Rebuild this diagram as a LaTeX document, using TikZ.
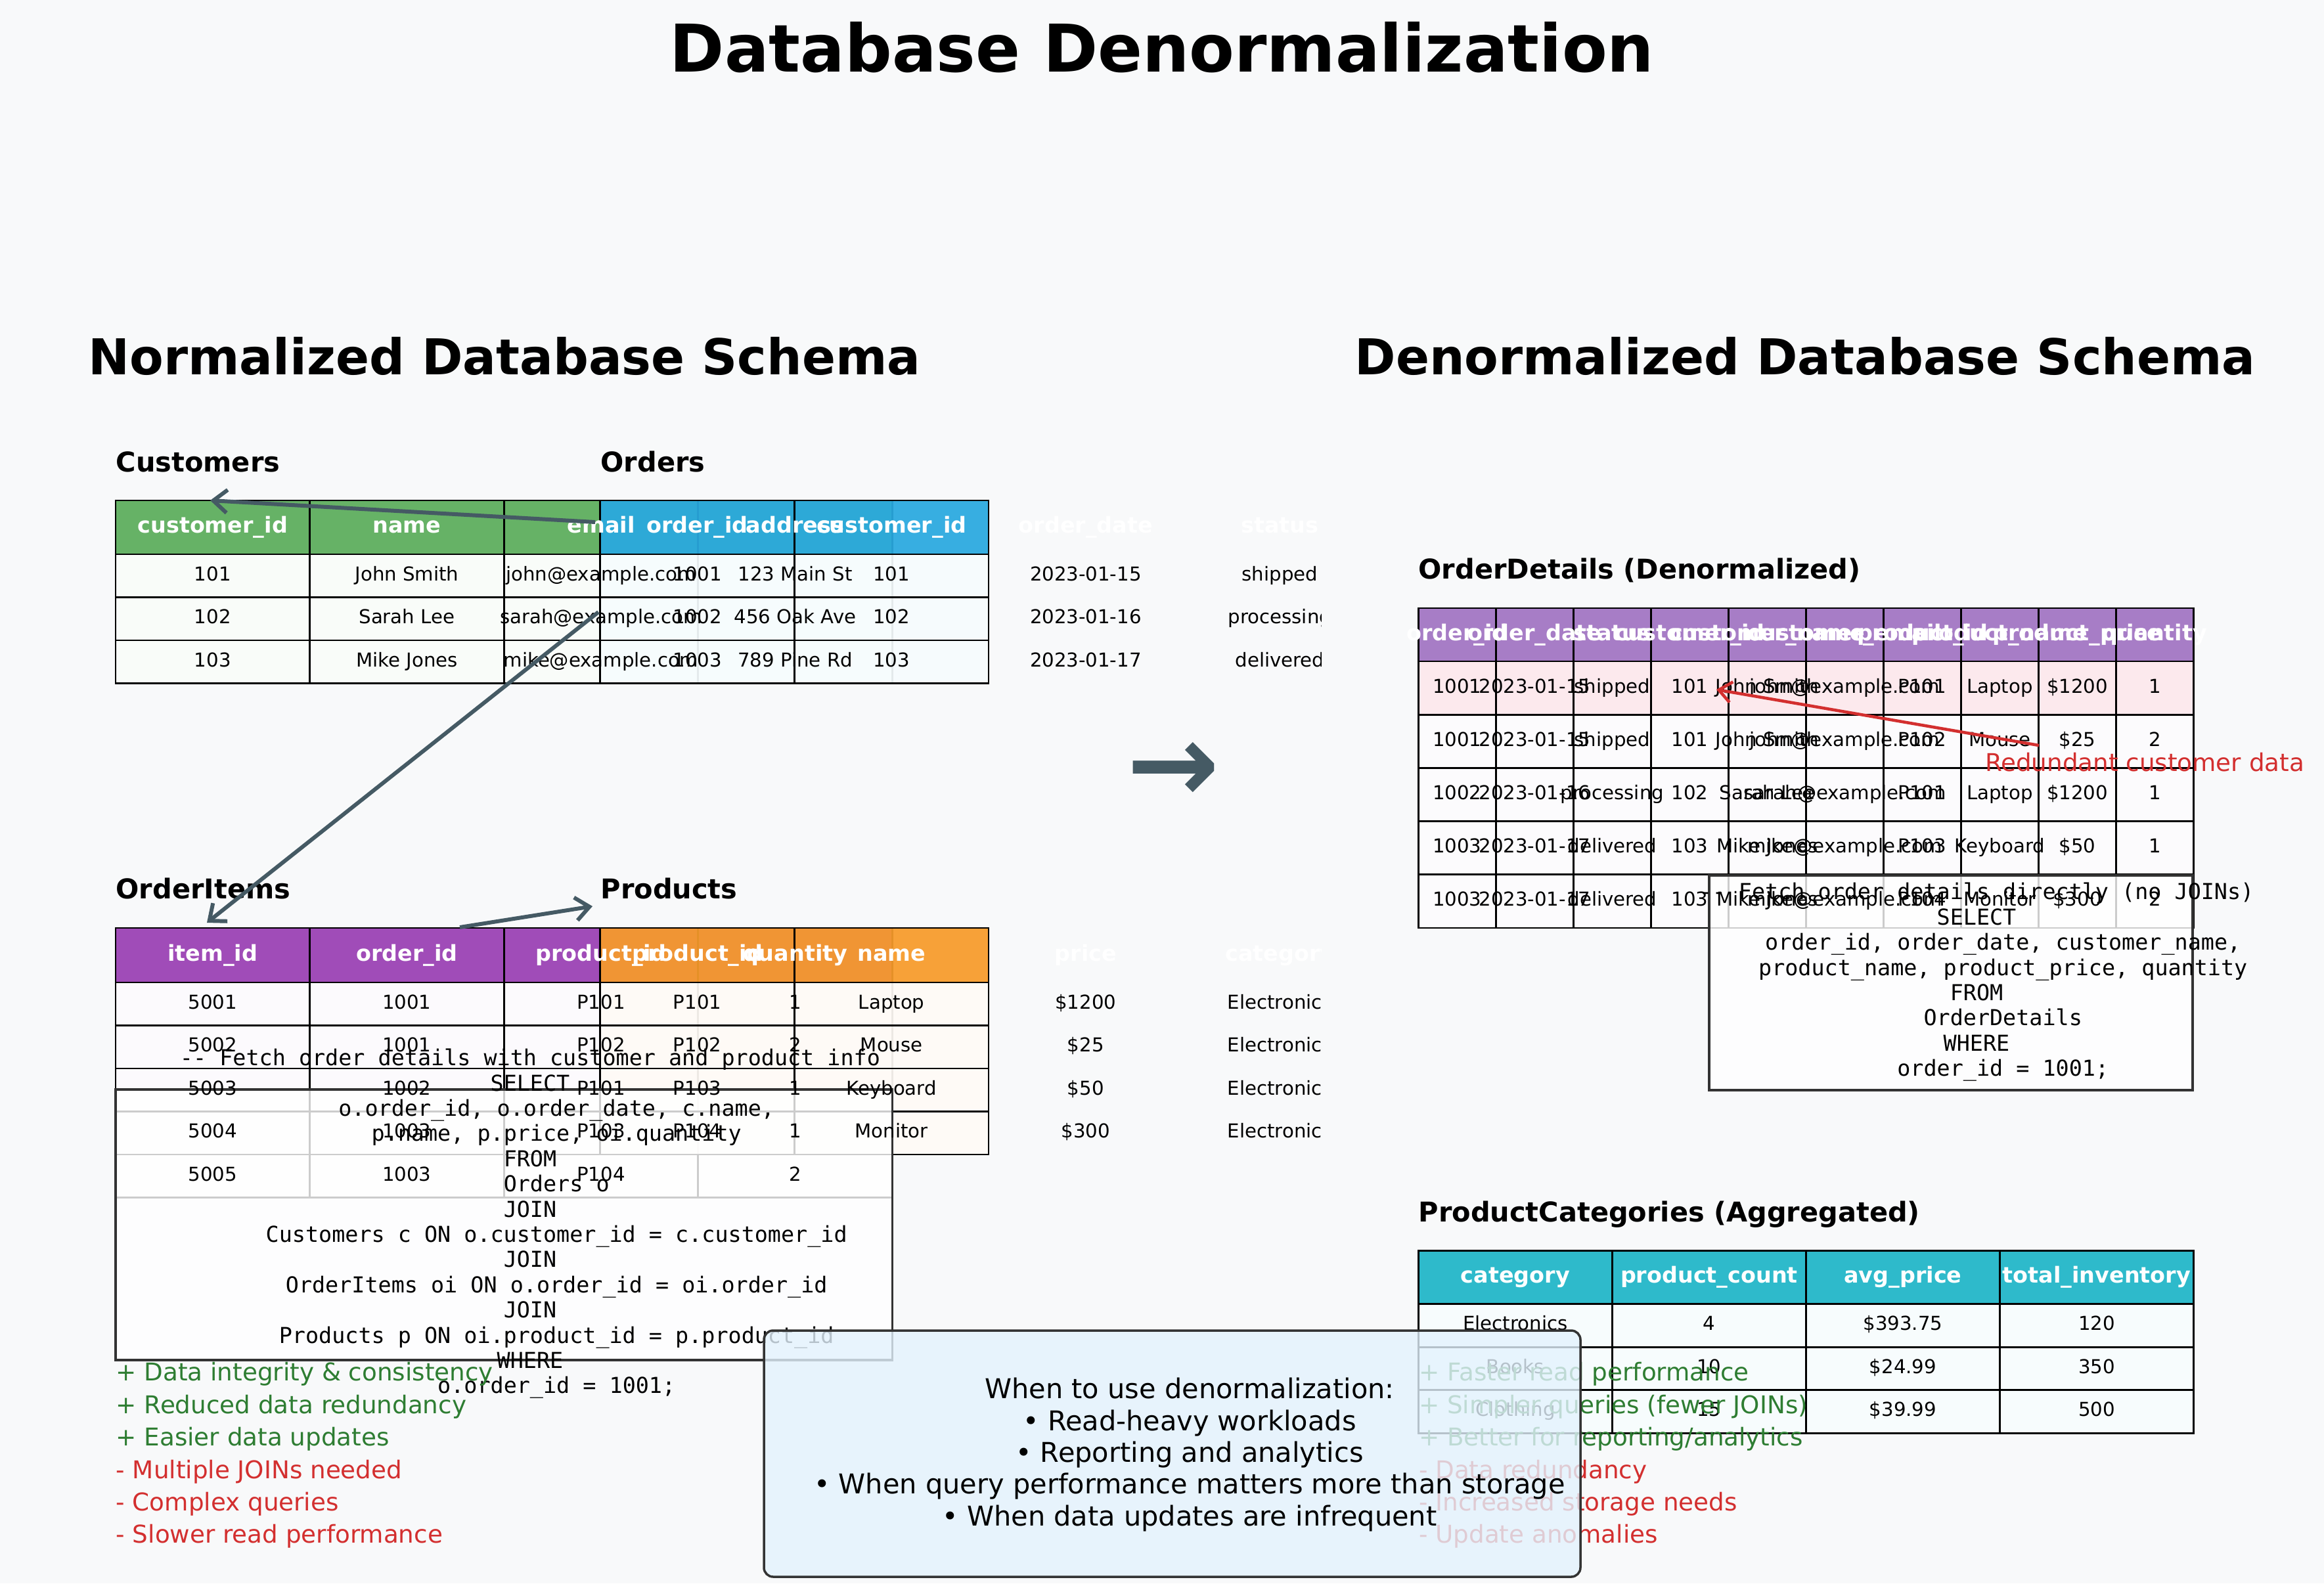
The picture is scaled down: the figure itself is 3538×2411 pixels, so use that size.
\documentclass[tikz,border=0pt]{standalone}
\usepackage{fontspec}
\setmainfont{DejaVu Sans}
\setmonofont{DejaVu Sans Mono}
\usetikzlibrary{arrows.meta}
\definecolor{bgc}{HTML}{F8F9FA}
\definecolor{cgreen}{HTML}{66B266}
\definecolor{cblue}{HTML}{29A9E0}
\definecolor{cpurple}{HTML}{A04CB8}
\definecolor{corange}{HTML}{F79B2A}
\definecolor{clav}{HTML}{A77DC6}
\definecolor{cteal}{HTML}{2EBACB}
\definecolor{cpink}{HTML}{FCE9ED}
\definecolor{slate}{HTML}{455A64}
\definecolor{pgreen}{HTML}{2E7D32}
\definecolor{cred}{HTML}{D32F2F}
\definecolor{infofill}{HTML}{E3F2FD}
\definecolor{boxline}{HTML}{333333}
\newcommand\qsp{\phantom{0000}}
\tikzset{
  cellline/.style={draw=black, line width=0.8pt},
  hdr/.style={text=white, font=\fontsize{9.5}{11}\selectfont\bfseries, inner sep=0pt, text height=7.2pt, text depth=2.3pt},
  cell/.style={text=black, font=\fontsize{8.3}{10}\selectfont, inner sep=0pt, text height=6.3pt, text depth=2pt},
  tbltitle/.style={font=\fontsize{11.8}{14}\selectfont\bfseries, anchor=west, inner sep=0pt, text height=9pt, text depth=2.8pt},
  sectitle/.style={font=\fontsize{21.4}{25}\selectfont\bfseries, inner sep=0pt, text height=16.3pt, text depth=5.1pt},
  sqltext/.style={font=\fontsize{9.5}{10.92}\selectfont\ttfamily, align=center, inner sep=0pt},
  protext/.style={text=pgreen, font=\fontsize{10.6}{12}\selectfont, anchor=west, inner sep=0pt, text height=8.1pt, text depth=2.5pt},
  context/.style={protext, text=cred},
  sqlbox/.style={fill=white, fill opacity=0.8, draw=boxline, line width=1pt},
  slatearrow/.style={draw=slate, line width=1.7pt, -{Straight Barb[length=6pt,width=10pt]}},
  redarrow/.style={draw=cred, line width=1.3pt, -{Straight Barb[length=5.5pt,width=9pt]}},
}
\begin{document}
\begin{tikzpicture}[x=0.01cm, y=-0.01cm]
\path[fill=bgc, use as bounding box] (0,0) rectangle (3538,2411);

% titles
\node[font=\fontsize{28.5}{32}\selectfont\bfseries, inner sep=0pt] (title) at (1769,72) {Database Denormalization};
\node[sectitle] (normtitle) at (768,551) {Normalized Database Schema};
\node[sectitle] (denormtitle) at (2748,551) {Denormalized Database Schema};

\node[tbltitle] (tcust) at (176,708) {Customers};
\node[tbltitle] (tord) at (914,708) {Orders};
\node[tbltitle] (titems) at (176,1358) {OrderItems};
\node[tbltitle] (tprod) at (914,1358) {Products};
\node[tbltitle] (tdet) at (2159,871) {OrderDetails (Denormalized)};
\node[tbltitle] (tcat) at (2159,1850) {ProductCategories (Aggregated)};

% ---------- left tables: cells ----------
\foreach \c in {0,...,3}{
  \path[cellline, fill=cgreen] ({176+\c*295.6},762) rectangle ++(295.6,82);
  \foreach \r in {0,1,2}
    \path[cellline, fill=cgreen!4!white] ({176+\c*295.6},{844+\r*65.5}) rectangle ++(295.6,65.5);
}
\foreach \c in {0,1}{
  \path[cellline, fill=cblue, fill opacity=0.93] ({913.8+\c*295.6},762) rectangle ++(295.6,82);
  \foreach \r in {0,1,2}
    \path[cellline, fill=cblue!4!white, fill opacity=0.93] ({913.8+\c*295.6},{844+\r*65.5}) rectangle ++(295.6,65.5);
}
\foreach \c in {0,...,3}{
  \path[cellline, fill=cpurple] ({176+\c*295.6},1413) rectangle ++(295.6,83);
  \foreach \r in {0,...,4}
    \path[cellline, fill=cpurple!3!white] ({176+\c*295.6},{1496+\r*65.5}) rectangle ++(295.6,65.5);
}
\foreach \c in {0,1}{
  \path[cellline, fill=corange, fill opacity=0.93] ({913.8+\c*295.6},1413) rectangle ++(295.6,83);
  \foreach \r in {0,...,3}
    \path[cellline, fill=corange!4!white, fill opacity=0.93] ({913.8+\c*295.6},{1496+\r*65.5}) rectangle ++(295.6,65.5);
}

% left SQL box
\path[sqlbox] (176,1659) rectangle (1358.4,2071);

% ---------- left tables: texts ----------
\begin{scope}
\clip (0,0) rectangle (2011,2411);
\foreach \txt [count=\c from 0] in {customer\_id,name,email,address}
  \node[hdr] (custh\c) at ({323.8+\c*295.6},803) {\txt};
\foreach \row [count=\r from 0] in {{101,John Smith,john@example.com,123 Main St},{102,Sarah Lee,sarah@example.com,456 Oak Ave},{103,Mike Jones,mike@example.com,789 Pine Rd}}
  \foreach \txt [count=\c from 0] in \row
    \node[cell] (cust\r-\c) at ({323.8+\c*295.6},{876.75+\r*65.5}) {\txt};
\foreach \txt [count=\c from 0] in {order\_id,customer\_id,order\_date,status}
  \node[hdr] (ordh\c) at ({1061.6+\c*295.6},803) {\txt};
\foreach \row [count=\r from 0] in {{1001,101,2023-01-15,shipped},{1002,102,2023-01-16,processing},{1003,103,2023-01-17,delivered}}
  \foreach \txt [count=\c from 0] in \row
    \node[cell] (ord\r-\c) at ({1061.6+\c*295.6},{876.75+\r*65.5}) {\txt};
\foreach \txt [count=\c from 0] in {item\_id,order\_id,product\_id,quantity}
  \node[hdr] (itemh\c) at ({323.8+\c*295.6},1454.5) {\txt};
\foreach \row [count=\r from 0] in {{5001,1001,P101,1},{5002,1001,P102,2},{5003,1002,P101,1},{5004,1003,P103,1},{5005,1003,P104,2}}
  \foreach \txt [count=\c from 0] in \row
    \node[cell] (item\r-\c) at ({323.8+\c*295.6},{1528.75+\r*65.5}) {\txt};
\foreach \txt [count=\c from 0] in {product\_id,name,price,category}
  \node[hdr] (prodh\c) at ({1061.6+\c*295.6},1454.5) {\txt};
\foreach \row [count=\r from 0] in {{P101,Laptop,\$1200,Electronics},{P102,Mouse,\$25,Electronics},{P103,Keyboard,\$50,Electronics},{P104,Monitor,\$300,Electronics}}
  \foreach \txt [count=\c from 0] in \row
    \node[cell] (prod\r-\c) at ({1061.6+\c*295.6},{1528.75+\r*65.5}) {\txt};
\end{scope}

\node[sqltext] (sqlleft) at (807,1863.5) {-{}- Fetch order details with customer and product info\\
SELECT\\
\qsp o.order\_id, o.order\_date, c.name,\\
\qsp p.name, p.price, oi.quantity\\
FROM\\
\qsp Orders o\\
JOIN\\
\qsp Customers c ON o.customer\_id = c.customer\_id\\
JOIN\\
\qsp OrderItems oi ON o.order\_id = oi.order\_id\\
JOIN\\
\qsp Products p ON oi.product\_id = p.product\_id\\
WHERE\\
\qsp o.order\_id = 1001;};

% arrows (left)
\coordinate (a1s) at (906,795);
\coordinate (a1e) at (320,762);
\coordinate (a2s) at (911,932);
\coordinate (a2e) at (315,1405);
\coordinate (a3s) at (700,1412);
\coordinate (a3e) at (902,1380);
\draw[slatearrow] (a1s) -- (a1e);
\draw[slatearrow] (a2s) -- (a2e);
\draw[slatearrow] (a3s) -- (a3e);

% pros / cons left
\node[protext] (lp1) at (176,2093) {+ Data integrity \& consistency};
\node[protext] (lp2) at (176,2142.4) {+ Reduced data redundancy};
\node[protext] (lp3) at (176,2191.8) {+ Easier data updates};
\node[context] (lc1) at (176,2241.2) {- Multiple JOINs needed};
\node[context] (lc2) at (176,2290.6) {- Complex queries};
\node[context] (lc3) at (176,2340) {- Slower read performance};

% big arrow
\node[font=\fontsize{48}{50}\selectfont\bfseries, text=slate, inner sep=0pt] (bigarrow) at (1786,1176) {→};

% ---------- denormalized table ----------
\foreach \c in {0,...,9}{
  \path[cellline, fill=clav] ({2159.4+\c*118.01},926) rectangle ++(118.01,81);
  \path[cellline, fill=cpink] ({2159.4+\c*118.01},1007) rectangle ++(118.01,81.2);
  \foreach \r in {1,...,4}
    \path[cellline, fill=clav!3!white] ({2159.4+\c*118.01},{1007+\r*81.2}) rectangle ++(118.01,81.2);
}
\path[sqlbox] (2602,1333) rectangle (3338,1660);
\foreach \txt [count=\c from 0] in {order\_id,order\_date,status,customer\_id,customer\_name,customer\_email,product\_id,product\_name,product\_price,quantity}
  \node[hdr] (deth\c) at ({2218.4+\c*118.01},966.5) {\txt};
\foreach \row [count=\r from 0] in {{1001,2023-01-15,shipped,101,John Smith,john@example.com,P101,Laptop,\$1200,1},{1001,2023-01-15,shipped,101,John Smith,john@example.com,P102,Mouse,\$25,2},{1002,2023-01-16,processing,102,Sarah Lee,sarah@example.com,P101,Laptop,\$1200,1},{1003,2023-01-17,delivered,103,Mike Jones,mike@example.com,P103,Keyboard,\$50,1},{1003,2023-01-17,delivered,103,Mike Jones,mike@example.com,P104,Monitor,\$300,2}}
  \foreach \txt [count=\c from 0] in \row
    \node[cell] (det\r-\c) at ({2218.4+\c*118.01},{1047.6+\r*81.2}) {\txt};

\node[sqltext] (sqlright) at (3009,1495.4) {-{}- Fetch order details directly (no JOINs)\\
SELECT\\
\qsp order\_id, order\_date, customer\_name,\\
\qsp product\_name, product\_price, quantity\\
FROM\\
\qsp OrderDetails\\
WHERE\\
\qsp order\_id = 1001;};

\coordinate (rs) at (3104,1135);
\coordinate (re) at (2613,1050);
\draw[redarrow] (rs) -- (re);
\node[font=\fontsize{10.6}{12}\selectfont, text=cred, inner sep=0pt] (redlabel) at (3265,1161) {Redundant customer data};

% ---------- ProductCategories ----------
\foreach \c in {0,...,3}{
  \path[cellline, fill=cteal] ({2159.4+\c*295.03},1904.4) rectangle ++(295.03,81.2);
  \foreach \r in {0,1,2}
    \path[cellline, fill=cteal!4!white] ({2159.4+\c*295.03},{1985.6+\r*65.5}) rectangle ++(295.03,65.5);
}
\foreach \txt [count=\c from 0] in {category,product\_count,avg\_price,total\_inventory}
  \node[hdr] (cath\c) at ({2306.9+\c*295.03},1945) {\txt};
\foreach \row [count=\r from 0] in {{Electronics,4,\$393.75,120},{Books,10,\$24.99,350},{Clothing,15,\$39.99,500}}
  \foreach \txt [count=\c from 0] in \row
    \node[cell] (cat\r-\c) at ({2306.9+\c*295.03},{2018.35+\r*65.5}) {\txt};

% pros / cons right
\node[protext] (rp1) at (2159.4,2093) {+ Faster read performance};
\node[protext] (rp2) at (2159.4,2142.4) {+ Simpler queries (fewer JOINs)};
\node[protext] (rp3) at (2159.4,2191.8) {+ Better for reporting/analytics};
\node[context] (rc1) at (2159.4,2241.2) {- Data redundancy};
\node[context] (rc2) at (2159.4,2290.6) {- Increased storage needs};
\node[context] (rc3) at (2159.4,2340) {- Update anomalies};

% ---------- info box ----------
\path[fill=infofill, fill opacity=0.8, draw=boxline, line width=1pt, rounded corners=0.14cm] (1163,2026) rectangle (2406,2401);
\node[font=\fontsize{11.8}{13.73}\selectfont, align=center, inner sep=0pt] (infotext) at (1811,2215) {When to use denormalization:\\
• Read-heavy workloads\\
• Reporting and analytics\\
• When query performance matters more than storage\\
• When data updates are infrequent};
\end{tikzpicture}
\end{document}
